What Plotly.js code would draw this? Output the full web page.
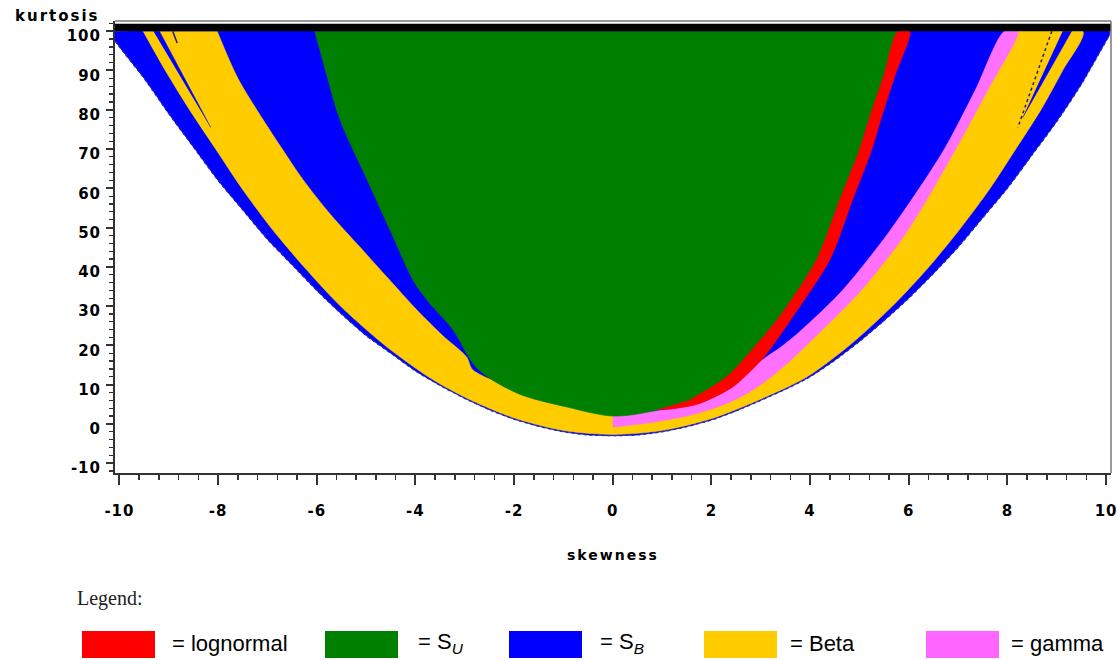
<!DOCTYPE html>
<html><head><meta charset="utf-8">
<script src="https://cdn.plot.ly/plotly-3.0.1.min.js"></script>
<style>
html,body{margin:0;padding:0;background:#fff;}
#chart{width:1119px;height:660px;}
#chart .xtick text, #chart .ytick text{letter-spacing:1px;}
#chart .annotation[data-index="0"] text, #chart .annotation[data-index="1"] text{letter-spacing:2px;}
</style>
</head><body><div id="chart"></div>
<script>
// ---- boundary curves (skewness, kurtosis) ----
const lowerSkew = [-10.09,-10.0,-9.5,-9.0,-8.5,-8.0,-7.5,-7.0,-6.5,-6.0,-5.5,-5.0,-4.5,-4.0,-3.5,-3.0,-2.5,-2.0,-1.5,-1.0,-0.5,0,0.5,1.0,1.5,2.0,2.5,3.0,3.5,4.0,4.5,5.0,5.5,6.0,6.5,7.0,7.5,8.0,8.5,9.0,9.5,10.0,10.07];
const lowerKurt = [97.5,96,88,79,70.5,62,54.5,47,40.5,34,28,22.5,18,13.5,9.8,6.5,3.6,1.2,-0.6,-2.0,-2.8,-3.0,-2.8,-2.0,-0.7,1.0,3.3,6.0,8.8,12.0,16.2,21,26.3,32,38.3,45,52.5,60,68.5,77,86.5,97.5,99];

const betaOuterSkew = [-9.52,-9.07,-8.58,-8.05,-7.52,-6.93,-6.26,-5.52,-4.62,-3.74,-3.0,-2.0,-1.0,0,1.0,2.0,3.0,3.94,4.8,5.67,6.41,7.06,7.65,8.17,8.68,9.12,9.53];
const betaOuterKurt = [100,90,80,70,60,50,40,30,20,12,6.8,1.5,-1.7,-2.7,-1.7,1.3,6.3,12,20,30,40,50,60,70,80,90,100];
const betaInnerSkew = [-8.02,-7.6,-7.09,-6.7,-6.28,-5.7,-5.13,-4.55,-3.97,-3.45,-2.96,-2.84,-2.0,-1.0,0,1.0,2.0,3.0,3.79,5.0,6.0,6.85,7.5,8.08];
const betaInnerKurt = [100,88,77.5,70,62.2,53,45.1,37,29,22.5,17,13.8,9.0,5.5,4.0,3.0,5.5,11,21,35,52,69.5,85,100];

const suLeftSkew = [-6.04,-5.8,-5.53,-4.98,-4.5,-4.05,-3.77,-3.24,-2.75,-1.95,-0.93,0];
const suLeftKurt = [100,89,77.5,62.2,49,36.7,31.6,24,14.2,7.9,4.3,2.0];
const suRightSkew = [0,0.75,1.56,2.31,2.92,3.45,4.13,4.6,5.0,5.21,5.5,5.78];
const suRightKurt = [2.0,3.1,6.1,12,20.3,28.5,41.8,57,69.8,78.2,89,100];

const lognSkew = [0.9,1.3,1.76,2.43,2.98,3.18,3.65,4.40,4.86,5.25,5.45,5.73,6.02];
const lognKurt = [3.6,4.0,5.2,9.4,15.8,18.9,27.3,41.8,57,69.8,78.2,89,100];

const gammaInnerSkew = [0,0.75,1.3,1.76,2.43,2.98,3.4,3.79,4.62,5.59,6.7,7.35,7.94];
const gammaInnerKurt = [2.0,3.1,4.0,5.2,9.4,15.8,19.5,23.5,33.5,48.7,69.5,85,100];
const gammaOuterSkew = [0,0.75,1.5,2.0,2.5,3.0,3.5,4.13,5.0,5.95,6.93,7.6,8.21];
const gammaOuterKurt = [-0.8,0.3,2.0,3.8,6.3,10,15,22.5,33.5,48.7,69.5,85,100];

const leftStripeSkew = [-9.31,-9.19,-8.15];
const leftStripeKurt = [100,100,75.5];
const leftTickSkew = [-8.92,-8.83];
const leftTickKurt = [100,97];
const rightStripeSkew = [9.12,9.30,8.31];
const rightStripeKurt = [100,100,78.0];
const rightDotSkew = [8.90,8.21];
const rightDotKurt = [100,75.4];

const xTickVals = [-10,-8,-6,-4,-2,0,2,4,6,8,10];
const xTickText = ['-10','-8','-6','-4','-2','0','2','4','6','8','10'];
const yTickVals = [-10,0,10,20,30,40,50,60,70,80,90,100];
const yTickText = ['-10','0','10','20','30','40','50','60','70','80','90','100'];

const legendLabels = ['= lognormal','= S<sub><i>U</i></sub>','= S<sub><i>B</i></sub>','= Beta','= gamma'];
const legendColors = ['#ff0000','#008000','#0000ff','#ffcc00','#ff66ff'];

// ---- colours ----
const BLUE='#0000ff', YELLOW='#ffcc00', GREEN='#008000', RED='#ff0000', PINK='#ff70ff';

function rev(a){return a.slice().reverse();}
function poly(xs, ys, color, smooth){
  return {type:'scatter', mode:'lines', x:xs, y:ys, fill:'toself', fillcolor:color,
          line:{color:color, width:0.6, shape: smooth ? 'spline' : 'linear', smoothing: smooth || 0},
          hoverinfo:'skip', showlegend:false};
}

// base S_B region: everything above the lower boundary
const baseX = lowerSkew.concat([10.07,-10.09]);
const baseY = lowerKurt.concat([100,100]);
// Beta band
const betaX = betaOuterSkew.concat(rev(betaInnerSkew));
const betaY = betaOuterKurt.concat(rev(betaInnerKurt));
// gamma band
const gamX = gammaInnerSkew.concat(rev(gammaOuterSkew));
const gamY = gammaInnerKurt.concat(rev(gammaOuterKurt));
// S_U region
const suX = suLeftSkew.concat(suRightSkew.slice(1));
const suY = suLeftKurt.concat(suRightKurt.slice(1));
// lognormal band
const idx = suRightSkew.map((s,i)=>i).filter(i=>suRightSkew[i]>=0.9);
const redX = lognSkew.concat(rev(idx.map(i=>suRightSkew[i])));
const redY = lognKurt.concat(rev(idx.map(i=>suRightKurt[i])));

const traces = [
  poly(baseX, baseY, BLUE, 0.6),
  poly(betaX, betaY, YELLOW, 0.8),
  poly(leftStripeSkew, leftStripeKurt, BLUE),
  poly(rightStripeSkew, rightStripeKurt, BLUE),
  {type:'scatter',mode:'lines',x:leftTickSkew,y:leftTickKurt,line:{color:'#1a1aa0',width:1.5},hoverinfo:'skip',showlegend:false},
  {type:'scatter',mode:'lines',x:rightDotSkew,y:rightDotKurt,line:{color:'#222277',width:1.5,dash:'dot'},hoverinfo:'skip',showlegend:false},
  poly(gamX, gamY, PINK, 0.8),
  poly(suX, suY, GREEN, 0.9),
  poly(redX, redY, RED, 0.8),
  {type:'scatter',mode:'lines',x:lowerSkew,y:lowerKurt,line:{color:'#2a2a90',width:1.3,dash:'dot',shape:'spline',smoothing:0.6},hoverinfo:'skip',showlegend:false}
];

// pixel -> paper helpers (plot area: x 115..1111, y 21..473)
const PX = p => (p-115)/996;
const PY = p => (473-p)/452;

const tickFont = {family:'DejaVu Sans', size:15, color:'#000', weight:'bold'};

const shapes = [
  {type:'rect', xref:'paper', yref:'y', x0:0, x1:1, y0:100, y1:101.9, fillcolor:'#000', line:{width:0}, layer:'above'},
  {type:'line', xref:'paper', yref:'paper', x0:0, x1:1, y0:1, y1:1, line:{color:'#777', width:1.5}},
  {type:'line', xref:'paper', yref:'paper', x0:1, x1:1, y0:0, y1:1, line:{color:'#777', width:1.5}}
];
const swatchLeft = [82,325,509,704,926];
const textLeft = [170,416,598,788,1009];
const annotations = [
  {text:'kurtosis', xref:'paper', yref:'paper', x:PX(57), y:PY(16), xanchor:'center', yanchor:'middle', showarrow:false,
   font:{family:'DejaVu Sans', size:15, color:'#000', weight:'bold'}},
  {text:'skewness', xref:'paper', yref:'paper', x:0.5, y:PY(555), xanchor:'center', yanchor:'middle', showarrow:false,
   font:{family:'DejaVu Sans', size:14, color:'#000', weight:'bold'}},
  {text:'Legend:', xref:'paper', yref:'paper', x:PX(75), y:PY(598), xanchor:'left', yanchor:'middle', showarrow:false,
   font:{family:'Liberation Serif', size:20, color:'#222'}}
];
legendLabels.forEach((lab,i)=>{
  shapes.push({type:'rect', xref:'paper', yref:'paper', x0:PX(swatchLeft[i]), x1:PX(swatchLeft[i]+73), y0:PY(658), y1:PY(631),
               fillcolor:legendColors[i], line:{width:0}});
  annotations.push({text:lab, xref:'paper', yref:'paper', x:PX(textLeft[i]), y:PY(643), xanchor:'left', yanchor:'middle',
                    showarrow:false, font:{family:'Liberation Sans', size:22, color:'#000'}});
});

const layout = {
  width:1119, height:660,
  margin:{l:115, r:8, t:21, b:187},
  paper_bgcolor:'#fff', plot_bgcolor:'#fff',
  showlegend:false,
  xaxis:{range:[-10.09,10.1], tickmode:'array', tickvals:xTickVals, ticktext:xTickText,
         ticks:'outside', ticklen:10, tickwidth:2, tickcolor:'#333',
         showline:true, linecolor:'#333', linewidth:2, showgrid:false, zeroline:false,
         tickfont:tickFont, ticklabelstandoff:13,
         minor:{dtick:0.4, tick0:-10, ticks:'outside', ticklen:5, tickwidth:1.5, tickcolor:'#333', showgrid:false}},
  yaxis:{range:[-12.5,102.6], tickmode:'array', tickvals:yTickVals, ticktext:yTickText,
         ticks:'outside', ticklen:7, tickwidth:2, tickcolor:'#333',
         showline:true, linecolor:'#333', linewidth:2, showgrid:false, zeroline:false,
         tickfont:tickFont, ticklabelstandoff:2, ticklabelshift:5,
         minor:{dtick:2, tick0:0, ticks:'outside', ticklen:4, tickwidth:1.2, tickcolor:'#333', showgrid:false}},
  shapes:shapes,
  annotations:annotations
};

Plotly.newPlot('chart', traces, layout, {displayModeBar:false, staticPlot:true});
</script>
</body></html>
